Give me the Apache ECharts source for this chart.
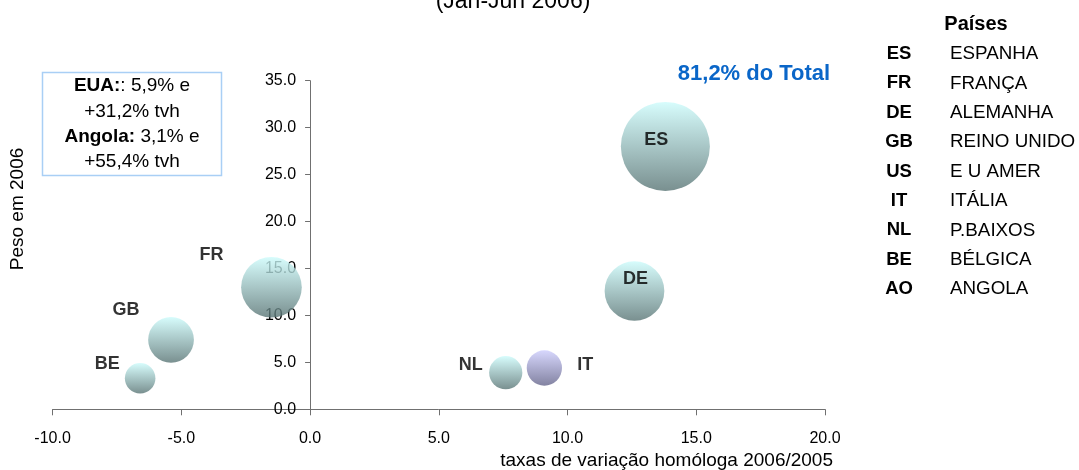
<!DOCTYPE html>
<html>
<head>
<meta charset="utf-8">
<script src="https://cdn.jsdelivr.net/npm/echarts@6/dist/echarts.min.js"></script>
<style>
  html, body { margin: 0; padding: 0; background: #fff; }
  #chart { width: 1079px; height: 470px; }
</style>
</head>
<body>
<div id="chart"></div>
<script>
// dados
const paises = ["ES", "FR", "DE", "GB", "IT", "NL", "BE"];
const tvh = [13.8, -1.5, 12.6, -5.4, 9.1, 7.6, -6.6];   // taxa de variação 2006/2005
const peso = [28.0, 13.0, 12.6, 7.4, 4.4, 3.9, 3.3];   // peso em 2006 (também tamanho da bolha)
const xTicks = [-10, 20, 5];
const yTicks = [0, 35, 5];

const codigos = ["ES", "FR", "DE", "GB", "US", "IT", "NL", "BE", "AO"];
const nomes = ["ESPANHA", "FRANÇA", "ALEMANHA", "REINO UNIDO", "E U AMER", "ITÁLIA", "P.BAIXOS", "BÉLGICA", "ANGOLA"];
const notaLinhas = ["{b|EUA:}: 5,9% e", "+31,2% tvh", "{b|Angola:} 3,1% e", "+55,4% tvh"];
const totalTexto = "81,2% do Total";

// posição dos rótulos (px, relativos ao centro da bolha)
const rotuloOffset = {
  ES: [-9, -6], FR: [-60, -32], DE: [1, -12], GB: [-45, -30],
  IT: [41, -3], NL: [-35, -8], BE: [-33, -14]
};

const FONT = "'Liberation Sans', Arial, sans-serif";

// área do gráfico
const G = { left: 52.6, right: 254, top: 80.7, bottom: 60.7 };
const larguraGrid = 1079 - G.left - G.right;
// o eixo Y cruza em x = 0
const yOffset = -larguraGrid * (0 - xTicks[0]) / (xTicks[1] - xTicks[0]);

function grad(top, bottom) {
  return new echarts.graphic.LinearGradient(0, 0, 0, 1, [
    { offset: 0, color: top },
    { offset: 1, color: bottom }
  ]);
}

const dados = paises.map((p, i) => ({
  name: p,
  value: [tvh[i], peso[i]],
  itemStyle: {
    color: p === "IT" ? grad("#cdcdfd", "#64648a") : grad("#cdfcfc", "#587474")
  },
  label: { offset: rotuloOffset[p] }
}));

const legendaGraficos = [];
legendaGraficos.push({
  type: "text", x: 976, y: 24,
  style: { text: "Países", align: "center", verticalAlign: "middle", font: "bold 20px " + FONT, fill: "#000" }
});
codigos.forEach((c, i) => {
  const y = 54 + i * 29.4;
  legendaGraficos.push({
    type: "text", x: 899, y: y,
    style: { text: c, align: "center", verticalAlign: "middle", font: "bold 18.5px " + FONT, fill: "#000" }
  });
  legendaGraficos.push({
    type: "text", x: 950, y: y,
    style: { text: nomes[i], align: "left", verticalAlign: "middle", font: "18.8px " + FONT, fill: "#000" }
  });
});

const chart = echarts.init(document.getElementById("chart"), null, { renderer: "canvas" });
chart.setOption({
  animation: false,
  grid: { left: G.left, right: G.right, top: G.top, bottom: G.bottom, containLabel: false },
  xAxis: {
    type: "value", min: xTicks[0], max: xTicks[1], interval: xTicks[2],
    splitLine: { show: false },
    axisLine: { show: true, onZero: false, lineStyle: { color: "#707070", width: 1 } },
    axisTick: { show: true, length: 6, lineStyle: { color: "#707070" } },
    axisLabel: { margin: 21, color: "#000", fontSize: 16, fontFamily: FONT, formatter: v => v.toFixed(1) }
  },
  yAxis: {
    type: "value", min: yTicks[0], max: yTicks[1], interval: yTicks[2],
    offset: yOffset,
    splitLine: { show: false },
    axisLine: { show: true, onZero: false, lineStyle: { color: "#707070", width: 1 } },
    axisTick: { show: true, length: 5, lineStyle: { color: "#707070" } },
    axisLabel: { margin: 14, color: "#000", fontSize: 16, fontFamily: FONT, formatter: v => v.toFixed(1) }
  },
  series: [{
    type: "scatter",
    data: dados,
    symbolSize: v => 16.82 * Math.sqrt(v[1]),
    label: {
      show: true, position: "inside", formatter: "{b}",
      color: "#000", fontWeight: "bold", fontSize: 18, fontFamily: FONT
    },
    emphasis: { disabled: true }
  }],
  graphic: [
    {
      type: "text", x: 513, y: 13,
      style: { text: "(Jan-Jun 2006)", align: "center", verticalAlign: "bottom", font: "23px " + FONT, fill: "#000" }
    },
    {
      type: "text", x: 754, y: 74,
      style: { text: totalTexto, align: "center", verticalAlign: "middle", font: "bold 22px " + FONT, fill: "#0a66c8" }
    },
    {
      type: "rect", shape: { x: 42.5, y: 72.5, width: 179, height: 103 },
      style: { fill: "#fff", stroke: "#a9cff5", lineWidth: 1.5 }
    },
    {
      type: "text", x: 132, y: 124,
      style: {
        text: notaLinhas.join("\n"), align: "center", verticalAlign: "middle",
        font: "19px " + FONT, lineHeight: 25.3, fill: "#000",
        rich: { b: { fontWeight: "bold", fontSize: 19, fontFamily: FONT, lineHeight: 25.3 } }
      }
    },
    {
      type: "text", x: 18, y: 209, rotation: Math.PI / 2,
      style: { text: "Peso em 2006", align: "center", verticalAlign: "middle", font: "19px " + FONT, fill: "#000" }
    },
    {
      type: "text", x: 833, y: 461,
      style: { text: "taxas de variação homóloga 2006/2005", align: "right", verticalAlign: "middle", font: "19px " + FONT, fill: "#000" }
    }
  ].concat(legendaGraficos)
});
</script>
</body>
</html>
